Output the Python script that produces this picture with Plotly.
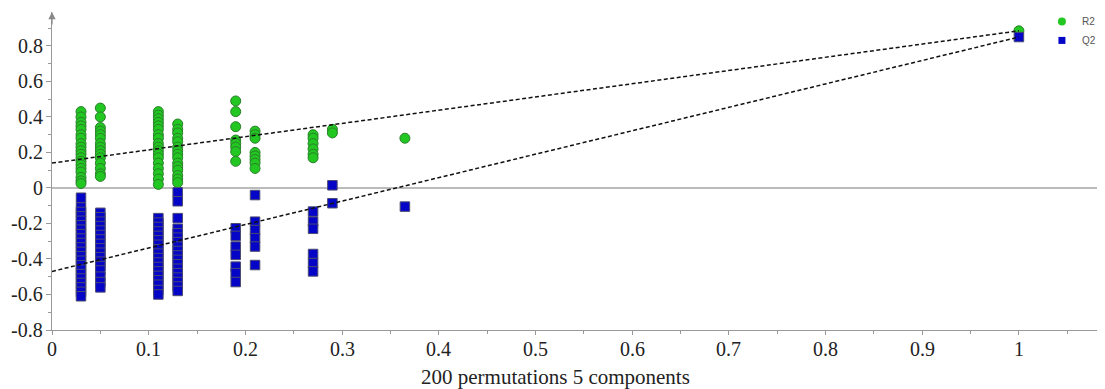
import plotly.graph_objects as go

# Correlation (x) positions of permutation groups
groups_x = [0.03, 0.05, 0.11, 0.13, 0.19, 0.21, 0.27, 0.29, 0.365, 1.0]

# R2 values per group
r2_groups = [
    [0.43, 0.40, 0.37, 0.35, 0.33, 0.30, 0.28, 0.25, 0.23, 0.21, 0.19, 0.17, 0.15, 0.13, 0.11, 0.09, 0.06, 0.04, 0.025],
    [0.45, 0.40, 0.34, 0.32, 0.30, 0.28, 0.25, 0.23, 0.21, 0.19, 0.17, 0.14, 0.11, 0.08, 0.065],
    [0.43, 0.41, 0.39, 0.37, 0.35, 0.33, 0.30, 0.28, 0.25, 0.23, 0.21, 0.19, 0.17, 0.14, 0.11, 0.08, 0.05, 0.02],
    [0.36, 0.33, 0.31, 0.28, 0.26, 0.23, 0.21, 0.19, 0.17, 0.14, 0.12, 0.10, 0.07, 0.05, 0.03],
    [0.49, 0.43, 0.345, 0.27, 0.25, 0.23, 0.205, 0.15],
    [0.32, 0.30, 0.28, 0.20, 0.18, 0.16, 0.14, 0.11],
    [0.30, 0.28, 0.25, 0.22, 0.19, 0.17],
    [0.33, 0.31],
    [0.28],
    [0.885],
]

# Q2 values per group
q2_groups = [
    [-0.055, -0.11, -0.135, -0.16, -0.185, -0.21, -0.235, -0.26, -0.285, -0.31, -0.335, -0.36,
     -0.385, -0.41, -0.435, -0.46, -0.485, -0.51, -0.535, -0.56, -0.585, -0.61],
    [-0.14, -0.165, -0.19, -0.215, -0.24, -0.265, -0.29, -0.315, -0.34, -0.365, -0.39, -0.415,
     -0.44, -0.465, -0.50, -0.53, -0.56],
    [-0.17, -0.195, -0.22, -0.245, -0.27, -0.295, -0.32, -0.345, -0.37, -0.395, -0.42, -0.445,
     -0.47, -0.495, -0.52, -0.545, -0.575, -0.60],
    [-0.025, -0.075, -0.17, -0.23, -0.255, -0.28, -0.305, -0.33, -0.355, -0.38, -0.405, -0.43,
     -0.455, -0.48, -0.505, -0.53, -0.555, -0.58],
    [-0.227, -0.27, -0.33, -0.377, -0.443, -0.48, -0.53],
    [-0.04, -0.19, -0.237, -0.283, -0.33, -0.434],
    [-0.133, -0.19, -0.23, -0.372, -0.423, -0.47],
    [0.015, -0.086],
    [-0.105],
    [0.85],
]

# Regression lines (intercept at x=0, original model at x=1)
line_x = [0, 1]
r2_line = [0.14, 0.885]
q2_line = [-0.47, 0.85]

y_ticks = [-0.8, -0.6, -0.4, -0.2, 0, 0.2, 0.4, 0.6, 0.8]
y_labels = ["-0.8", "-0.6", "-0.4", "-0.2", "0", "0.2", "0.4", "0.6", "0.8"]
x_ticks = [0, 0.1, 0.2, 0.3, 0.4, 0.5, 0.6, 0.7, 0.8, 0.9, 1]
x_labels = ["0", "0.1", "0.2", "0.3", "0.4", "0.5", "0.6", "0.7", "0.8", "0.9", "1"]
x_title = "200 permutations 5 components"

r2_x, r2_y, q2_x, q2_y = [], [], [], []
for gx, vals in zip(groups_x, r2_groups):
    r2_x += [gx] * len(vals)
    r2_y += vals
for gx, vals in zip(groups_x, q2_groups):
    q2_x += [gx] * len(vals)
    q2_y += vals

GREEN = "#22c722"
GREEN_EDGE = "#2a7f2a"
BLUE = "#0505c8"
BLUE_EDGE = "#4a4a70"

fig = go.Figure()
fig.add_trace(go.Scatter(x=r2_x, y=r2_y, mode="markers", showlegend=False,
                         marker=dict(symbol="circle", size=10, color=GREEN,
                                     line=dict(color=GREEN_EDGE, width=1))))
fig.add_trace(go.Scatter(x=q2_x, y=q2_y, mode="markers", showlegend=False,
                         marker=dict(symbol="square", size=9.5, color=BLUE,
                                     line=dict(color=BLUE_EDGE, width=1))))
fig.add_trace(go.Scatter(x=line_x, y=r2_line, mode="lines", showlegend=False,
                         line=dict(color="#111", width=1.5, dash="4px,2.5px")))
fig.add_trace(go.Scatter(x=line_x, y=q2_line, mode="lines", showlegend=False,
                         line=dict(color="#111", width=1.5, dash="4px,2.5px")))
# legend entries
fig.add_trace(go.Scatter(x=[None], y=[None], mode="markers", name="R2",
                         marker=dict(symbol="circle", size=8, color=GREEN)))
fig.add_trace(go.Scatter(x=[None], y=[None], mode="markers", name="Q2",
                         marker=dict(symbol="square", size=7, color=BLUE)))

fig.update_layout(
    width=1097, height=381,
    margin=dict(l=44, r=1, t=4, b=59, autoexpand=False),
    plot_bgcolor="white", paper_bgcolor="white",
    font=dict(family="serif", size=20, color="#222"),
    legend=dict(x=0.941, y=1.016, xanchor="left", yanchor="top",
                font=dict(family="Liberation Sans", size=10, color="#555"),
                bgcolor="rgba(0,0,0,0)", itemwidth=30, tracegroupgap=0),
    xaxis=dict(range=[0, 1.088], tickvals=x_ticks, showticklabels=False,
               showgrid=False, zeroline=False, showline=True, linecolor="#999",
               linewidth=1, ticks="outside", ticklen=4, tickcolor="#999",
               automargin=False,
               minor=dict(dtick=0.05, tick0=0, ticks="outside", ticklen=3, tickcolor="#999")),
    yaxis=dict(range=[-0.8, 0.991], tickvals=y_ticks, showticklabels=False,
               showgrid=False, zeroline=True, zerolinecolor="#bbb", zerolinewidth=1.5,
               showline=True, linecolor="#999", linewidth=1, automargin=False,
               ticks="outside", ticklen=5, tickcolor="#999",
               minor=dict(dtick=0.1, tick0=0, ticks="outside", ticklen=3, tickcolor="#999")),
)

# tick labels (serif) placed at the axis tick values
for v, t in zip(y_ticks, y_labels):
    fig.add_annotation(xref="paper", yref="y", x=0, y=v, text=t, showarrow=False,
                       xanchor="right", yanchor="middle", xshift=-7,
                       font=dict(family="serif", size=20, color="#222"))
for v, t in zip(x_ticks, x_labels):
    fig.add_annotation(xref="x", yref="paper", x=v, y=0, text=t, showarrow=False,
                       xanchor="center", yanchor="middle", yshift=-19,
                       font=dict(family="serif", size=20, color="#222"))
fig.add_annotation(xref="paper", yref="paper", x=0.479, y=0, text=x_title, showarrow=False,
                   xanchor="center", yanchor="middle", yshift=-47,
                   font=dict(family="serif", size=21, color="#222"))

fig.add_annotation(xref="paper", yref="paper", x=0, y=1.0, ax=0, ay=14,
                   axref="pixel", ayref="pixel", showarrow=True, arrowhead=2,
                   arrowsize=1.2, arrowwidth=1.2, arrowcolor="#888", text="")

fig.write_html("out.html")
